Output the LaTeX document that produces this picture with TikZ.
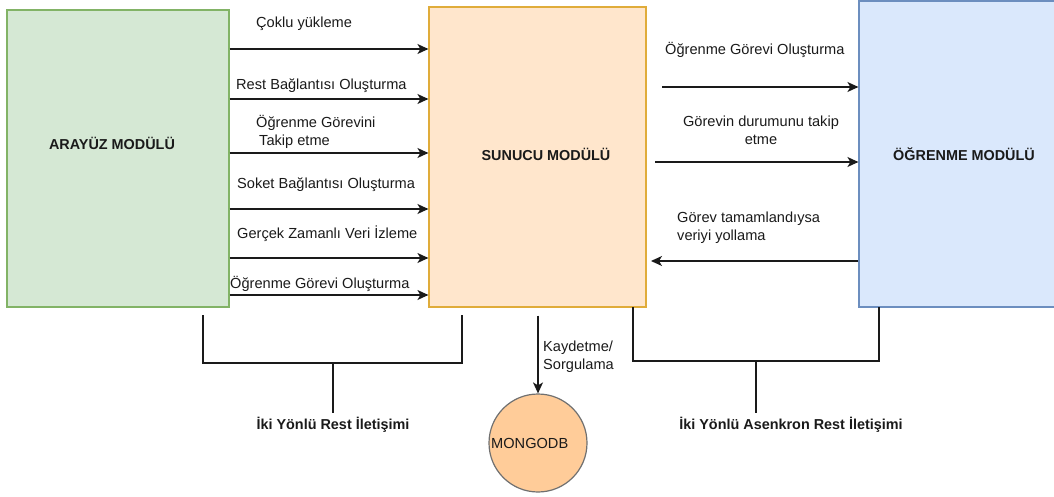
\documentclass[tikz,border=0pt]{standalone}
\usepackage{fontspec}
\setmainfont{Liberation Sans}
\usetikzlibrary{arrows.meta,calc}
\definecolor{greenfill}{HTML}{D5E8D4}
\definecolor{greenline}{HTML}{82B366}
\definecolor{orangefill}{HTML}{FFE6CC}
\definecolor{orangeline}{HTML}{E0AC3A}
\definecolor{bluefill}{HTML}{DAE8FC}
\definecolor{blueline}{HTML}{6C8EBF}
\definecolor{dbfill}{HTML}{FFCC99}
\definecolor{dbline}{HTML}{707070}
\definecolor{ink}{HTML}{1A1A1A}
\begin{document}
\begin{tikzpicture}[x=1pt,y=-1pt,
  modbox/.style={draw, line width=1.2pt, rectangle, inner sep=0pt},
  title/.style={font=\fontsize{14.4}{16}\selectfont\bfseries, text=ink, inner sep=0pt},
  lbl/.style={font=\fontsize{14.6}{18}\selectfont, text=ink, inner sep=0pt},
  flow/.style={draw=ink, line width=1.4pt, -{Stealth[length=11pt,width=10pt,inset=3pt]}},
  bracket/.style={draw=ink, line width=2pt}]
\useasboundingbox (0,0) rectangle (1054,497);

% module boxes
\node[modbox, draw=greenline, fill=greenfill, minimum width=222pt, minimum height=297pt] (arayuz) at (118,158.5) {};
\node[modbox, draw=orangeline, fill=orangefill, minimum width=217pt, minimum height=300pt] (sunucu) at (537.5,157) {};
\node[modbox, draw=blueline, fill=bluefill, minimum width=205pt, minimum height=306pt] (ogrenme) at (961.5,154) {};
\node[circle, draw=dbline, line width=1.2pt, fill=dbfill, minimum size=98pt, inner sep=0pt] (mongo) at (538,443) {};

% box titles
\node[title] (tarayuz) at (112,143) {ARAYÜZ MODÜLÜ};
\node[title] (tsunucu) at (546,154) {SUNUCU MODÜLÜ};
\node[title] (togrenme) at (964,154) {ÖĞRENME MODÜLÜ};
\node[lbl, anchor=west] (tmongo) at (491,443) {MONGODB};

% arrows from the interface module to the server module
\foreach \yy/\nm in {49/a1, 99/a2, 153/a3, 209/a4, 258/a5, 295/a6}
  \coordinate (\nm) at (0,\yy);
\foreach \nm in {a1,a2,a3,a4,a5,a6}
  \draw[flow] (arayuz.east |- \nm) -- (sunucu.west |- \nm);

\node[lbl, anchor=west] (l1) at (256,24) {Çoklu yükleme};
\node[lbl, anchor=west] (l2) at (236,86) {Rest Bağlantısı Oluşturma};
\node[lbl, anchor=west, align=left] (l3) at (256,132) {Öğrenme Görevini\\\hspace*{3pt}Takip etme};
\node[lbl, anchor=west] (l4) at (237,185) {Soket Bağlantısı Oluşturma};
\node[lbl, anchor=west] (l5) at (237,234) {Gerçek Zamanlı Veri İzleme};
\node[lbl, anchor=west] (l6) at (230,284) {Öğrenme Görevi Oluşturma};

% arrows between the server module and the learning module
\coordinate (b1s) at (662,87);
\coordinate (b2s) at (655,162);
\coordinate (b3e) at (651,261);
\draw[flow] (b1s) -- (ogrenme.west |- b1s);
\draw[flow] (b2s) -- (ogrenme.west |- b2s);
\draw[flow] (ogrenme.west |- b3e) -- (b3e);

\node[lbl, anchor=west] (r1) at (665,50) {Öğrenme Görevi Oluşturma};
\node[lbl, align=center] (r2) at (761,130) {Görevin durumunu takip\\etme};
\node[lbl, anchor=west, align=left] (r3) at (677,228) {Görev tamamlandıysa\\veriyi yollama};

% database access
\coordinate (dbs) at ($(sunucu.south -| mongo.north)+(0,8)$);
\draw[flow] (dbs) -- (mongo.north);
\node[lbl, anchor=west, align=left] (kd) at (543,357) {Kaydetme/\\Sorgulama};

% two-way REST bracket
\coordinate (lb1) at (203,315);
\coordinate (lb2) at (462,315);
\coordinate (lbh) at (333,363);
\coordinate (lbs) at (333,413);
\draw[bracket] (lb1) -- (lb1 |- lbh) -- (lb2 |- lbh) -- (lb2);
\draw[bracket] (lbh) -- (lbs);
\node[title] (tleft) at (333,425) {İki Yönlü Rest İletişimi};

% two-way asynchronous REST bracket
\coordinate (rb1) at (633,307);
\coordinate (rb2) at (879,307);
\coordinate (rbh) at (756,361);
\coordinate (rbs) at (756,413);
\draw[bracket] (rb1) -- (rb1 |- rbh) -- (rb2 |- rbh) -- (rb2);
\draw[bracket] (rbh) -- (rbs);
\node[title] (tright) at (791,425) {İki Yönlü Asenkron Rest İletişimi};
\end{tikzpicture}
\end{document}
